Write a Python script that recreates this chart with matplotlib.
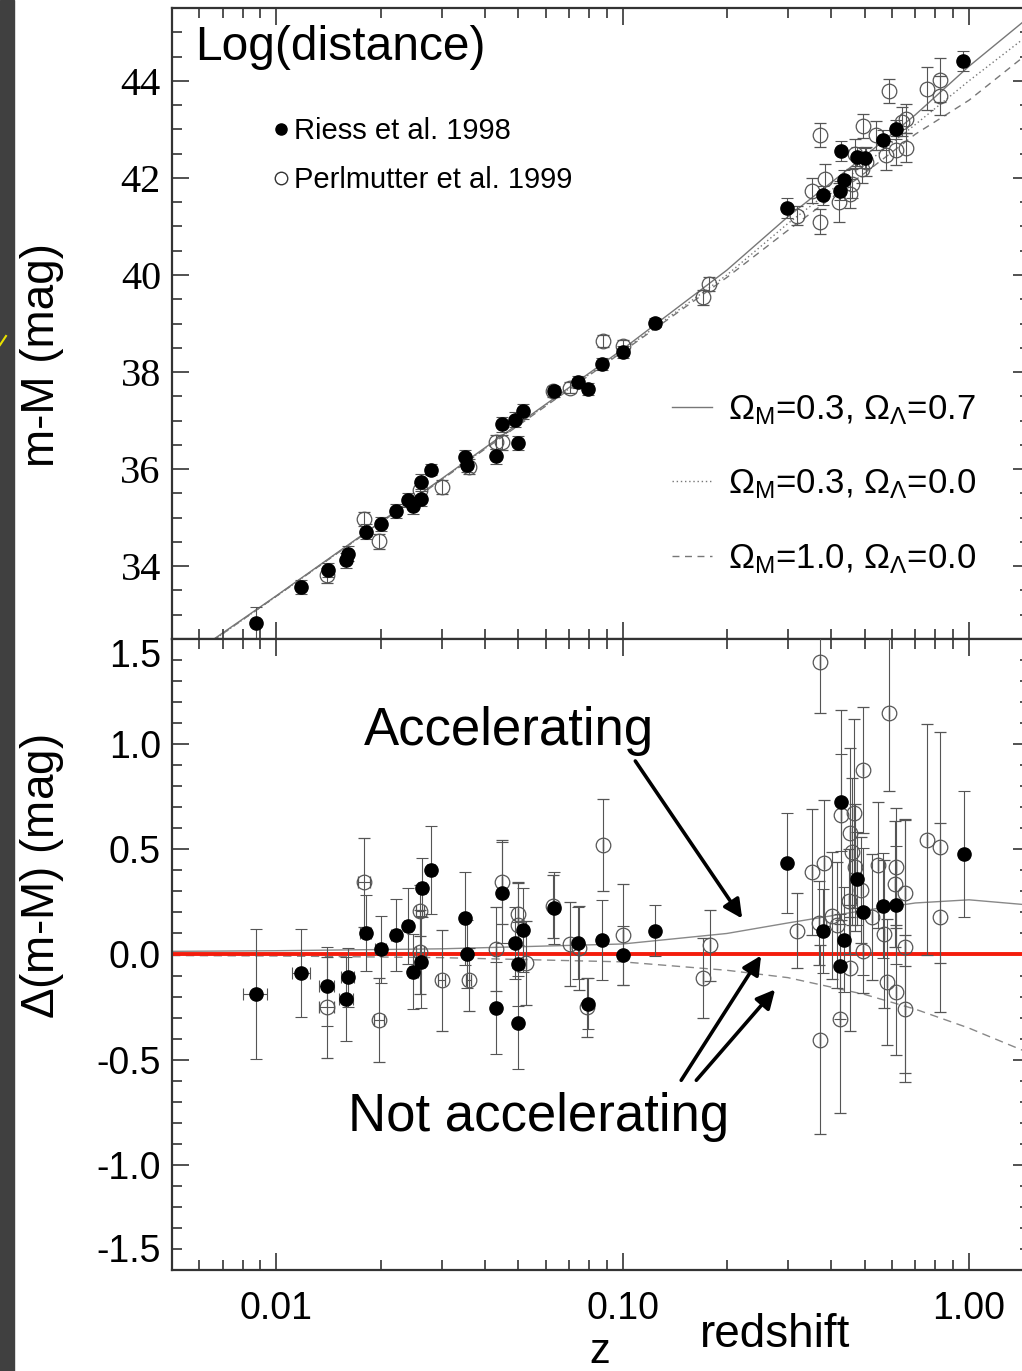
import matplotlib
matplotlib.use('Agg')
import matplotlib.pyplot as plt
from matplotlib.lines import Line2D
from matplotlib.patches import Rectangle
from matplotlib.ticker import FixedLocator, NullFormatter

SANS = 'Liberation Sans'
SERIF = 'Liberation Serif'
plt.rcParams['font.family'] = [SANS, 'DejaVu Sans']
plt.rcParams['mathtext.fontset'] = 'custom'
plt.rcParams['mathtext.rm'] = SANS
plt.rcParams['mathtext.it'] = SANS
plt.rcParams['mathtext.default'] = 'regular'

# ---- upper panel: distance modulus ----
riess_top_z = [0.00872, 0.0118, 0.0141, 0.0159, 0.0161, 0.0181, 0.0200, 0.0221, 0.0240, 0.0249,
               0.0262, 0.0261, 0.0280, 0.0351, 0.0355, 0.0430, 0.0449, 0.0500, 0.0488, 0.0515,
               0.0635, 0.0745, 0.0795, 0.0870, 0.1005, 0.124, 0.298, 0.378, 0.424, 0.437,
               0.428, 0.474, 0.500, 0.566, 0.617, 0.964]
riess_top_mm = [32.83, 33.57, 33.92, 34.12, 34.26, 34.71, 34.87, 35.14, 35.36, 35.23,
                35.74, 35.39, 35.99, 36.25, 36.09, 36.26, 36.92, 36.54, 37.02, 37.19,
                37.60, 37.80, 37.65, 38.16, 38.41, 39.02, 41.38, 41.64, 41.74, 41.96,
                42.55, 42.44, 42.41, 42.78, 43.00, 44.41]
riess_top_err = [0.33, 0.15, 0.15, 0.15, 0.15, 0.15, 0.15, 0.15, 0.15, 0.15,
                 0.15, 0.15, 0.12, 0.15, 0.15, 0.15, 0.15, 0.15, 0.15, 0.15,
                 0.12, 0.12, 0.12, 0.12, 0.12, 0.10, 0.20, 0.20, 0.20, 0.20,
                 0.20, 0.20, 0.20, 0.20, 0.20, 0.20]

perl_top_z = [0.0140, 0.0179, 0.0198, 0.0260, 0.0301, 0.0359, 0.0430, 0.0449, 0.0628, 0.0705,
              0.0876, 0.1000, 0.171, 0.178, 0.318, 0.352, 0.372, 0.372, 0.385, 0.420,
              0.453, 0.458, 0.470, 0.494, 0.490, 0.505, 0.540, 0.575, 0.588, 0.617,
              0.640, 0.656, 0.656, 0.757, 0.823, 0.823]
perl_top_mm = [33.81, 34.97, 34.51, 35.57, 35.63, 36.05, 36.56, 36.55, 37.60, 37.68,
               38.64, 38.54, 39.54, 39.81, 41.22, 41.74, 42.89, 41.10, 41.98, 41.50,
               41.67, 41.88, 42.50, 43.07, 42.19, 42.33, 42.88, 42.47, 43.79, 42.57,
               43.16, 43.22, 42.62, 43.84, 44.02, 43.69]
perl_top_err = [0.15, 0.15, 0.15, 0.15, 0.15, 0.15, 0.15, 0.15, 0.12, 0.12,
                0.12, 0.12, 0.15, 0.15, 0.20, 0.25, 0.25, 0.25, 0.30, 0.40,
                0.30, 0.30, 0.30, 0.25, 0.30, 0.30, 0.30, 0.30, 0.25, 0.30,
                0.30, 0.30, 0.30, 0.45, 0.45, 0.40]

# model curves
model_z = [0.005, 0.01, 0.03, 0.1, 0.2, 0.3, 0.5, 0.7, 1.0, 1.5]
top_acc = [31.90, 33.39, 35.80, 38.47, 40.10, 41.20, 42.45, 43.30, 44.30, 45.33]
top_open = [31.88, 33.38, 35.79, 38.44, 40.00, 41.06, 42.28, 43.10, 44.00, 44.97]
top_flat = [31.88, 33.38, 35.78, 38.42, 39.95, 40.92, 42.10, 42.90, 43.60, 44.60]

# ---- lower panel: residuals ----
riess_z = [0.00872, 0.0118, 0.0140, 0.0161, 0.0159, 0.0181, 0.0200, 0.0221, 0.0240, 0.0249,
           0.0263, 0.0261, 0.0280, 0.0351, 0.0355, 0.0449, 0.0430, 0.0488, 0.0515, 0.0500,
           0.0500, 0.0635, 0.0745, 0.0795, 0.0870, 0.1005, 0.124, 0.298, 0.428, 0.474,
           0.494, 0.378, 0.437, 0.424, 0.566, 0.616, 0.966]
riess_dm = [-0.187, -0.087, -0.152, -0.108, -0.212, 0.101, 0.024, 0.093, 0.136, -0.081,
            0.317, -0.036, 0.403, 0.172, 0.003, 0.293, -0.255, 0.054, 0.117, -0.047,
            -0.324, 0.220, 0.055, -0.234, 0.071, -0.003, 0.114, 0.435, 0.723, 0.361,
            0.204, 0.111, 0.070, -0.057, 0.231, 0.236, 0.478]
riess_err = [0.31, 0.21, 0.19, 0.14, 0.20, 0.18, 0.16, 0.17, 0.18, 0.18,
             0.14, 0.22, 0.21, 0.22, 0.16, 0.24, 0.22, 0.17, 0.20, 0.20,
             0.22, 0.17, 0.17, 0.12, 0.19, 0.14, 0.12, 0.24, 0.23, 0.22,
             0.30, 0.20, 0.25, 0.25, 0.25, 0.28, 0.30]
riess_zerr = [0.0007, 0.0007, 0.0007, 0.0007, 0.0007, 0.0007, 0.0007, 0.0007, 0.0007, 0.0007,
              0.0007, 0.0007, 0.0007, 0.0007, 0.0007, 0.0, 0.0, 0.0, 0.0, 0.0,
              0.0, 0.0, 0.0, 0.0, 0.0, 0.0, 0.0, 0.0, 0.0, 0.0,
              0.0, 0.0, 0.0, 0.0, 0.0, 0.0, 0.0]

perl_z = [0.0179, 0.0140, 0.0198, 0.0260, 0.0260, 0.0301, 0.0359, 0.0449, 0.0430, 0.0500,
          0.0500, 0.0527, 0.0628, 0.0705, 0.0750, 0.0876, 0.0790, 0.1005, 0.171, 0.179,
          0.372, 0.589, 0.494, 0.428, 0.465, 0.452, 0.458, 0.470, 0.488, 0.381,
          0.353, 0.318, 0.369, 0.403, 0.417, 0.449, 0.525, 0.546, 0.615, 0.610,
          0.654, 0.570, 0.654, 0.758, 0.822, 0.822, 0.452, 0.578, 0.615, 0.652,
          0.424, 0.372, 0.493]
perl_dm = [0.343, -0.250, -0.313, 0.209, 0.011, -0.123, -0.120, 0.346, 0.027, 0.193,
           0.138, -0.041, 0.229, 0.051, 0.030, 0.521, -0.250, 0.093, -0.111, 0.043,
           1.390, 1.149, 0.877, 0.663, 0.671, 0.580, 0.489, 0.414, 0.307, 0.435,
           0.394, 0.114, 0.149, 0.185, 0.141, 0.252, 0.177, 0.427, 0.418, 0.335,
           0.293, 0.098, 0.038, 0.546, 0.509, 0.177, -0.065, -0.131, -0.176, -0.258,
           -0.305, -0.405, 0.019]
perl_err = [0.21, 0.24, 0.20, 0.12, 0.20, 0.24, 0.15, 0.20, 0.20, 0.15,
            0.20, 0.20, 0.15, 0.20, 0.20, 0.22, 0.14, 0.24, 0.19, 0.17,
            0.24, 0.37, 0.30, 0.50, 0.45, 0.40, 0.35, 0.30, 0.25, 0.30,
            0.30, 0.18, 0.20, 0.30, 0.30, 0.25, 0.30, 0.30, 0.28, 0.30,
            0.35, 0.35, 0.60, 0.55, 0.55, 0.45, 0.30, 0.30, 0.30, 0.35,
            0.45, 0.45, 0.20]
perl_zerr = [0.0007, 0.0007, 0.0007, 0.0007, 0.0007, 0.0007, 0.0007, 0.0, 0.0, 0.0,
             0.0, 0.0, 0.0, 0.0, 0.0, 0.0, 0.0, 0.0, 0.0, 0.0,
             0.0, 0.0, 0.0, 0.0, 0.0, 0.0, 0.0, 0.0, 0.0, 0.0,
             0.0, 0.0, 0.0, 0.0, 0.0, 0.0, 0.0, 0.0, 0.0, 0.0,
             0.0, 0.0, 0.0, 0.0, 0.0, 0.0, 0.0, 0.0, 0.0, 0.0,
             0.0, 0.0, 0.0]

res_acc = [0.015, 0.018, 0.027, 0.050, 0.100, 0.150, 0.210, 0.245, 0.260, 0.235]
res_flat = [-0.005, -0.007, -0.015, -0.035, -0.075, -0.110, -0.190, -0.260, -0.350, -0.470]

top_yticks = [34, 36, 38, 40, 42, 44]
bot_yticks = [-1.5, -1.0, -0.5, 0.0, 0.5, 1.0, 1.5]
bot_ylabels = ['-1.5', '-1.0', '-0.5', '0.0', '0.5', '1.0', '1.5']
xticks = [0.01, 0.1, 1.0]
xticklabels = ['0.01', '0.10', '1.00']
xminor = [0.006, 0.007, 0.008, 0.009, 0.02, 0.03, 0.04, 0.05, 0.06, 0.07, 0.08, 0.09,
          0.2, 0.3, 0.4, 0.5, 0.6, 0.7, 0.8, 0.9]

W, H = 1022, 1371
fig = plt.figure(figsize=(W / 100, H / 100), dpi=100)


def fx(px):
    return px / W


def fy(py):
    return 1 - py / H


ax1 = fig.add_axes([fx(172), fy(639), (1030 - 172) / W, (639 - 8) / H])
ax2 = fig.add_axes([fx(172), fy(1270), (1030 - 172) / W, (1270 - 639) / H])

ERR = dict(ecolor='#555555', elinewidth=0.8, capsize=4, capthick=0.8, linestyle='none')
for ax in (ax1, ax2):
    ax.set_xscale('log')
    ax.set_xlim(0.005, 1.5)
    ax.xaxis.set_major_locator(FixedLocator(xticks))
    ax.xaxis.set_minor_locator(FixedLocator(xminor))
    ax.xaxis.set_minor_formatter(NullFormatter())
    ax.tick_params(which='both', direction='in', top=True, right=True, width=1.2, color='#333333')
    ax.tick_params(which='major', length=12)
    ax.tick_params(which='minor', length=7)
    for sp in ax.spines.values():
        sp.set_linewidth(1.6)
        sp.set_color('#333333')

# upper panel
ax1.plot(model_z, top_acc, color='#777777', lw=1.0, zorder=1)
ax1.plot(model_z, top_open, color='#777777', lw=1.0, ls=(0, (1, 2)), zorder=1)
ax1.plot(model_z, top_flat, color='#777777', lw=1.0, ls=(0, (5, 4)), zorder=1)
ax1.errorbar(perl_top_z, perl_top_mm, yerr=perl_top_err, marker='o', ms=10.5, mfc='none',
             mec='#555555', mew=0.9, zorder=3, **ERR)
ax1.errorbar(riess_top_z, riess_top_mm, yerr=riess_top_err, marker='o', ms=9.5, mfc='black',
             mec='black', zorder=4, **ERR)
ax1.set_ylim(32.5, 45.5)
ax1.yaxis.set_major_locator(FixedLocator(top_yticks))
ax1.yaxis.set_minor_locator(FixedLocator([32.5 + 0.5 * i for i in range(27)]))
ax1.set_yticklabels([str(t) for t in top_yticks], family=SERIF, fontsize=29)
ax1.tick_params(axis='y', pad=8)
ax1.tick_params(axis='x', labelbottom=False)
ax1.text(0.027, 0.938, 'Log(distance)', transform=ax1.transAxes, fontsize=34.5,
         ha='left', va='center')

data_handles = [Line2D([], [], ls='none', marker='o', ms=8, mfc='black', mec='black'),
                Line2D([], [], ls='none', marker='o', ms=9, mfc='none', mec='#333333', mew=1)]
leg1 = ax1.legend(data_handles, ['Riess et al. 1998', 'Perlmutter et al. 1999'],
                  loc='center left', bbox_to_anchor=(0.118, 0.766), frameon=False,
                  fontsize=21, handlelength=0.5, handletextpad=0.2, labelspacing=0.7,
                  borderpad=0, borderaxespad=0)
ax1.add_artist(leg1)
model_handles = [Line2D([], [], color='#777777', lw=1.0),
                 Line2D([], [], color='#777777', lw=1.0, ls=(0, (1, 2))),
                 Line2D([], [], color='#777777', lw=1.0, ls=(0, (5, 4)))]
ax1.legend(model_handles,
           [r'$\Omega_{M}$=0.3, $\Omega_{\Lambda}$=0.7',
            r'$\Omega_{M}$=0.3, $\Omega_{\Lambda}$=0.0',
            r'$\Omega_{M}$=1.0, $\Omega_{\Lambda}$=0.0'],
           loc='center left', bbox_to_anchor=(0.583, 0.245), frameon=False,
           fontsize=25, handlelength=1.15, handletextpad=0.45, labelspacing=1.17,
           borderpad=0, borderaxespad=0)

# lower panel
ax2.plot(model_z, res_acc, color='#888888', lw=1.0, zorder=1)
ax2.plot(model_z, res_flat, color='#888888', lw=1.0, ls=(0, (6, 4)), zorder=1)
ax2.axhline(0, color='#f41c0c', lw=2.8, zorder=2)
ax2.errorbar(perl_z, perl_dm, yerr=perl_err, xerr=perl_zerr, marker='o', ms=10.5, mfc='none',
             mec='#555555', mew=0.9, zorder=3, **ERR)
ax2.errorbar(riess_z, riess_dm, yerr=riess_err, xerr=riess_zerr, marker='o', ms=9.5,
             mfc='black', mec='black', zorder=4, **ERR)
ax2.set_ylim(-1.5, 1.5)
ax2.yaxis.set_major_locator(FixedLocator(bot_yticks))
ax2.yaxis.set_minor_locator(FixedLocator([-1.5 + 0.1 * i for i in range(31)]))
ax2.set_yticklabels(bot_ylabels, fontsize=27)
ylabs = ax2.get_yticklabels()
ylabs[0].set_va('bottom')
ylabs[-1].set_va('top')
ax2.tick_params(axis='y', pad=8)
ax2.set_xticklabels(xticklabels, fontsize=27)
ax2.tick_params(axis='x', pad=15)

ax2.text(0.0471, 1.063, 'Accelerating', fontsize=38, ha='center', va='center')
ax2.text(0.0571, -0.774, 'Not accelerating', fontsize=38, ha='center', va='center')
ARROW = dict(arrowstyle='-|>', color='black', lw=2.6, mutation_scale=28, shrinkA=0, shrinkB=0)
ax2.annotate('', xy=(0.2214, 0.171), xytext=(0.1088, 0.92), arrowprops=ARROW)
ax2.annotate('', xy=(0.251, -0.005), xytext=(0.1476, -0.598), arrowprops=ARROW)
ax2.annotate('', xy=(0.2756, -0.166), xytext=(0.1632, -0.598), arrowprops=ARROW)

# axis titles
fig.text(fx(42), fy(355), 'm-M (mag)', rotation=90, fontsize=33, ha='center', va='center')
fig.text(fx(42), fy(877), r'$\Delta$(m-M) (mag)', rotation=90, fontsize=33,
         ha='center', va='center')
fig.text(fx(600), fy(1352), 'z', fontsize=30, ha='center', va='center')
fig.text(fx(775), fy(1335), 'redshift', fontsize=33, ha='center', va='center')

# dark slide border on the left
fig.add_artist(Rectangle((0, 0), fx(14), 1, transform=fig.transFigure,
                         color='#404040', zorder=0))
fig.add_artist(Line2D([0, fx(6)], [fy(345), fy(336)], transform=fig.transFigure,
                      color='#e8e000', lw=1.5))

fig.savefig('out.png', dpi=100, facecolor='white')
